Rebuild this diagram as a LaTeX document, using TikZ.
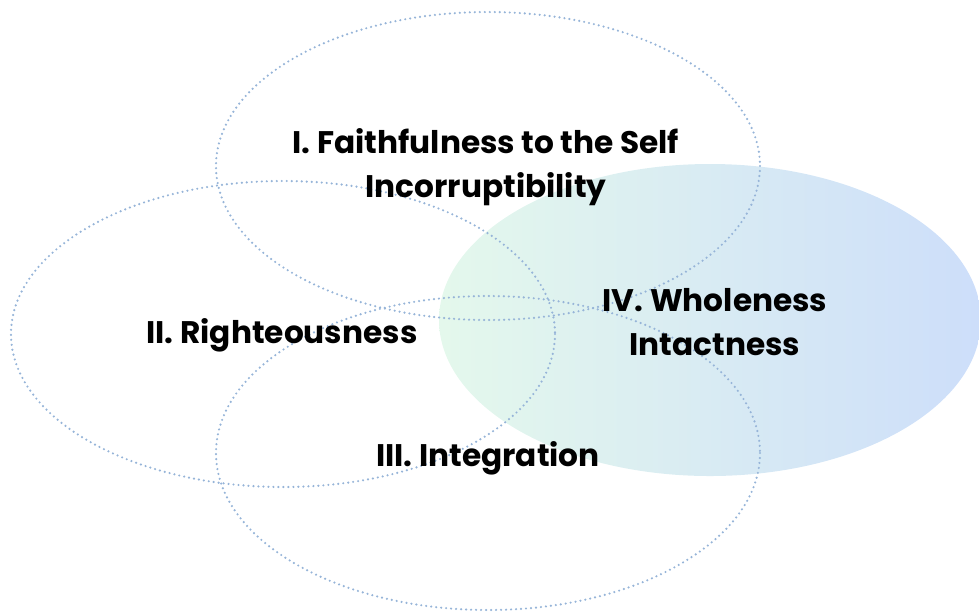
\documentclass[tikz,border=0pt]{standalone}
\usepackage{fontspec}
\setmainfont{Poppins}
\usepackage{tikz}
\usetikzlibrary{positioning}
\definecolor{RingLine}{RGB}{150,180,216}
\definecolor{WholeGreen}{RGB}{228,248,236}
\definecolor{WholeBlue}{RGB}{205,222,250}

\begin{document}
\begin{tikzpicture}[x=0.5pt, y=-0.5pt,
        ring/.style={draw=RingLine, line width=1.2pt, dash pattern=on 0pt off 2.5pt, line cap=round},
        whole/.style={left color=WholeGreen, right color=WholeBlue},
        lbl/.style={font=\fontsize{15.6}{22}\selectfont\bfseries, text=black, align=center, inner sep=0pt}
      ]
        \useasboundingbox (0,0) rectangle (979,612);
        \clip (0,0) rectangle (979,612);
        % shaded ellipse behind the dotted rings
        \shade[whole] (710,320) ellipse [x radius=271, y radius=156];
        \draw[ring] (488,166) ellipse [x radius=272, y radius=154];
        \draw[ring] (283,334) ellipse [x radius=272, y radius=153];
        \draw[ring] (488,453) ellipse [x radius=272, y radius=157];
        \node[lbl] (faith) at (486,167) {I. Faithfulness to the Self\\Incorruptibility};
        \node[lbl] (right) at (282,335) {II. Righteousness};
        \node[lbl] (integ) at (488,458) {III. Integration};
        \node[lbl] (whole) at (715,322) {IV. Wholeness\\Intactness};
      \end{tikzpicture}
\end{document}
